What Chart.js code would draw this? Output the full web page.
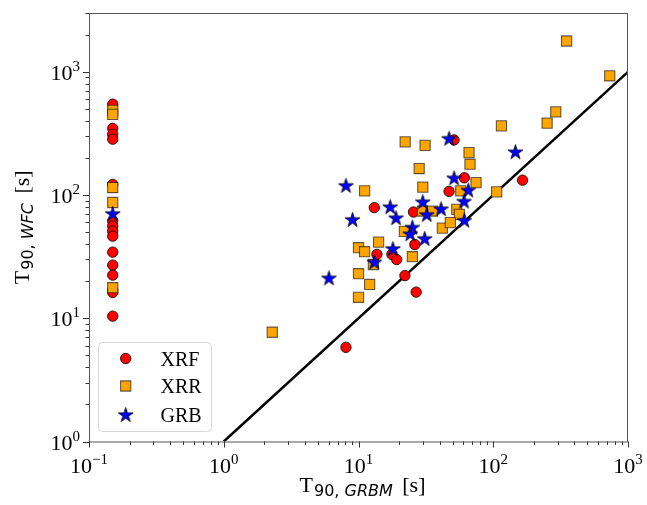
<!DOCTYPE html>
<html>
<head>
<meta charset="utf-8">
<script src="https://cdn.jsdelivr.net/npm/chart.js@4.4.1/dist/chart.umd.min.js"></script>
<style>
  html, body { margin: 0; padding: 0; background: #fff; }
  #wrap { width: 647px; height: 505px; }
</style>
</head>
<body>
<div id="wrap"><canvas id="t90Chart" width="647" height="505"></canvas></div>
<script>
// T90 from GRBM vs T90 from WFC, log-log, with the y = x line

// XRF (red circles); the 0.15 s column is the "no GRBM T90" group
let xrfX = [0.15, 0.15, 0.15, 0.15, 0.15, 0.15, 0.15, 0.15, 0.15, 0.15, 0.15, 0.15, 0.15, 0.15, 0.15,
            51.2, 61, 47, 13.1, 25.6, 26.2, 13.7, 17.7, 19.2, 22.1, 26.8, 8.07, 165];
let xrfY = [546, 347, 311, 284, 122, 61.5, 56, 51, 46.4, 34.4, 27, 22.4, 17.1, 16.2, 10.4,
            280, 138, 107, 79, 72.8, 39.7, 33, 33, 30, 22.2, 16.3, 5.81, 132];

// XRR (orange squares)
let xrrX = [0.15, 0.15, 0.15, 0.15, 0.15,
            22.2, 31.2, 66.1, 67.2, 28.2, 74.5, 30, 11.1, 57.4, 106, 29.8, 35.3, 53.6, 56, 21.9,
            41.9, 48, 14.1, 10, 11.1, 12.9, 25.1, 10, 12.1, 10, 2.29, 350, 732, 291, 251, 115];
let xrrY = [486, 451, 115, 87, 17.7,
            270, 253, 221, 178, 164, 126, 116, 108, 108, 106, 74.1, 74.1, 76.5, 69.7, 50.7,
            53.9, 59.7, 41.5, 37.4, 34.7, 27.3, 31.6, 23, 18.8, 14.8, 7.7, 1778, 928, 473, 383, 364];

// GRB (blue stars)
let grbX = [0.15, 47, 51.2, 8.07, 65.3, 60.7, 17.2, 30, 41, 32.1, 19, 9.03, 25.1, 24.2, 31, 61, 18, 13.1, 6.04, 146];
let grbY = [71, 289, 138, 120, 110, 89.4, 80.5, 88.4, 77.5, 69.7, 65.5, 63.5, 55, 48.6, 44.5, 62.6, 36.9, 28.7, 21.3, 225];

// y = x reference line
let lineX = [1, 1000];
let lineY = [1, 1000];

let xTicks = [0.1, 1, 10, 100, 1000];
let xTickExp = ['\u22121', '0', '1', '2', '3'];
let yTicks = [1, 10, 100, 1000];
let yTickExp = ['0', '1', '2', '3'];

let legendNames = ['XRF', 'XRR', 'GRB'];

function pairs(xs, ys) {
    return xs.map((x, i) => ({ x: x, y: ys[i] }));
}

// matplotlib-like filled 5 point star
function makeStar(r, fill) {
    let c = document.createElement('canvas');
    c.width = 2 * r + 4;
    c.height = 2 * r + 4;
    let g = c.getContext('2d');
    let cx = c.width / 2, cy = c.height / 2 + 0.8;
    let inner = r * 0.382;
    g.beginPath();
    for (let i = 0; i < 10; i++) {
        let rr = i % 2 === 0 ? r : inner;
        let a = -Math.PI / 2 + i * Math.PI / 5;
        let px = cx + rr * Math.cos(a), py = cy + rr * Math.sin(a);
        if (i === 0) g.moveTo(px, py); else g.lineTo(px, py);
    }
    g.closePath();
    g.fillStyle = fill;
    g.fill();
    g.lineWidth = 0.8;
    g.strokeStyle = '#000';
    g.stroke();
    return c;
}
let starImg = makeStar(7.8, '#0000ff');

let SERIF = '"Liberation Serif", "DejaVu Serif", serif';
let SANS = '"DejaVu Sans", sans-serif';

// draw a run of [text, font, dy, gapAfter] pieces
function runWidth(ctx, parts) {
    let w = 0;
    parts.forEach(p => { ctx.font = p[1]; w += ctx.measureText(p[0]).width + (p[3] || 0); });
    return w;
}
function drawRun(ctx, parts, x, y) {
    parts.forEach(p => {
        ctx.font = p[1];
        ctx.fillText(p[0], x, y + p[2]);
        x += ctx.measureText(p[0]).width + (p[3] || 0);
    });
}

let axesDeco = {
    id: 'axesDeco',
    afterDraw(chart) {
        let ctx = chart.ctx;
        let a = chart.chartArea;
        let xs = chart.scales.x, ys = chart.scales.y;
        ctx.save();
        ctx.textAlign = 'left';
        ctx.textBaseline = 'alphabetic';

        // frame
        ctx.strokeStyle = '#555';
        ctx.lineWidth = 1;
        ctx.strokeRect(a.left + 0.5, a.top + 0.5, a.right - a.left - 1, a.bottom - a.top);

        // ticks
        ctx.strokeStyle = '#333';
        ctx.beginPath();
        for (let e = -1; e <= 3; e++) {
            for (let k = 1; k <= 9; k++) {
                let v = k * Math.pow(10, e);
                if (v > 1000.001) break;
                let px = Math.round(xs.getPixelForValue(v)) + 0.5;
                let len = k === 1 ? 6 : 3.5;
                ctx.moveTo(px, a.bottom);
                ctx.lineTo(px, a.bottom + len);
            }
        }
        for (let e = 0; e <= 3; e++) {
            for (let k = 1; k <= 9; k++) {
                let v = k * Math.pow(10, e);
                if (v > 3000) break;
                let py = Math.round(ys.getPixelForValue(v)) + 0.5;
                let len = k === 1 ? 6 : 3.5;
                ctx.moveTo(a.left, py);
                ctx.lineTo(a.left - len, py);
            }
        }
        ctx.stroke();

        // tick labels
        ctx.fillStyle = '#000';
        let big = '22px ' + SERIF, small = '15px ' + SERIF;
        xTicks.forEach((v, i) => {
            let parts = [['10', big, 0], [xTickExp[i], small, -9]];
            let w = runWidth(ctx, parts);
            drawRun(ctx, parts, xs.getPixelForValue(v) - w / 2, a.bottom + 31);
        });
        yTicks.forEach((v, i) => {
            let parts = [['10', big, 0], [yTickExp[i], small, -9]];
            let w = runWidth(ctx, parts);
            drawRun(ctx, parts, a.left - 9 - w, ys.getPixelForValue(v) + 8);
        });

        // axis titles
        let tf = '22px ' + SERIF, sf = '16px ' + SANS, si = 'italic 16px ' + SANS;
        let xt = [['T', tf, 0, 1], ['90, ', sf, 4], ['GRBM', si, 4, 4], [' [s]', tf, 0]];
        let xw = runWidth(ctx, xt);
        drawRun(ctx, xt, (a.left + a.right) / 2 + 4 - xw / 2, 492);

        let yt = [['T', tf, 0, 1], ['90, ', sf, 4], ['WFC', si, 4, 4], [' [s]', tf, 0]];
        let yw = runWidth(ctx, yt);
        ctx.save();
        ctx.translate(29, (a.top + a.bottom) / 2);
        ctx.rotate(-Math.PI / 2);
        drawRun(ctx, yt, -yw / 2, 0);
        ctx.restore();

        // legend
        let lx = 98.5, ly = 342.5, lw = 113, lh = 89, r = 4;
        ctx.beginPath();
        ctx.moveTo(lx + r, ly);
        ctx.arcTo(lx + lw, ly, lx + lw, ly + lh, r);
        ctx.arcTo(lx + lw, ly + lh, lx, ly + lh, r);
        ctx.arcTo(lx, ly + lh, lx, ly, r);
        ctx.arcTo(lx, ly, lx + lw, ly, r);
        ctx.closePath();
        ctx.fillStyle = 'rgba(255,255,255,0.8)';
        ctx.fill();
        ctx.strokeStyle = '#d6d6d6';
        ctx.lineWidth = 1;
        ctx.stroke();

        let rows = [358.5, 386, 414.5];
        chart.data.datasets.slice(1).forEach((ds, i) => {
            let mx = 125.7, my = rows[i];
            ctx.fillStyle = ds.backgroundColor;
            ctx.strokeStyle = ds.borderColor;
            ctx.lineWidth = ds.borderWidth;
            Chart.helpers.drawPoint(ctx, {
                pointStyle: ds.pointStyle, radius: ds.pointRadius,
                rotation: 0, borderWidth: ds.borderWidth
            }, mx, my);
            ctx.fillStyle = '#000';
            ctx.font = '20px ' + SERIF;
            ctx.fillText(legendNames[i], 160.5, my + 7);
        });
        ctx.restore();
    }
};

let data = {
    datasets: [
        { type: 'line', label: 'y=x', data: pairs(lineX, lineY), borderColor: '#000', borderWidth: 2.5,
          pointRadius: 0, fill: false, order: 4 },
        { label: legendNames[0], data: pairs(xrfX, xrfY), pointStyle: 'circle', pointRadius: 5.2,
          backgroundColor: '#ff0000', borderColor: '#000', borderWidth: 0.8, order: 3 },
        { label: legendNames[1], data: pairs(xrrX, xrrY), pointStyle: 'rect', pointRadius: 7.2,
          backgroundColor: '#ffa500', borderColor: 'rgba(0,0,0,0.6)', borderWidth: 1.1, order: 2 },
        { label: legendNames[2], data: pairs(grbX, grbY), pointStyle: starImg, pointRadius: 7.8,
          backgroundColor: '#0000ff', borderColor: '#000', borderWidth: 0.8, order: 1 }
    ]
};

let config = {
    type: 'scatter',
    data: data,
    options: {
        responsive: false,
        animation: false,
        layout: { padding: { left: 89, right: 19, top: 13, bottom: 63.5 } },
        plugins: { legend: { display: false }, tooltip: { enabled: false } },
        scales: {
            x: { type: 'logarithmic', min: 0.1, max: 1000, display: false },
            y: { type: 'logarithmic', min: 1, max: 3000, display: false }
        }
    },
    plugins: [axesDeco]
};

let ctx = document.getElementById('t90Chart');
let t90Chart = new Chart(ctx, config);
</script>
</body>
</html>
